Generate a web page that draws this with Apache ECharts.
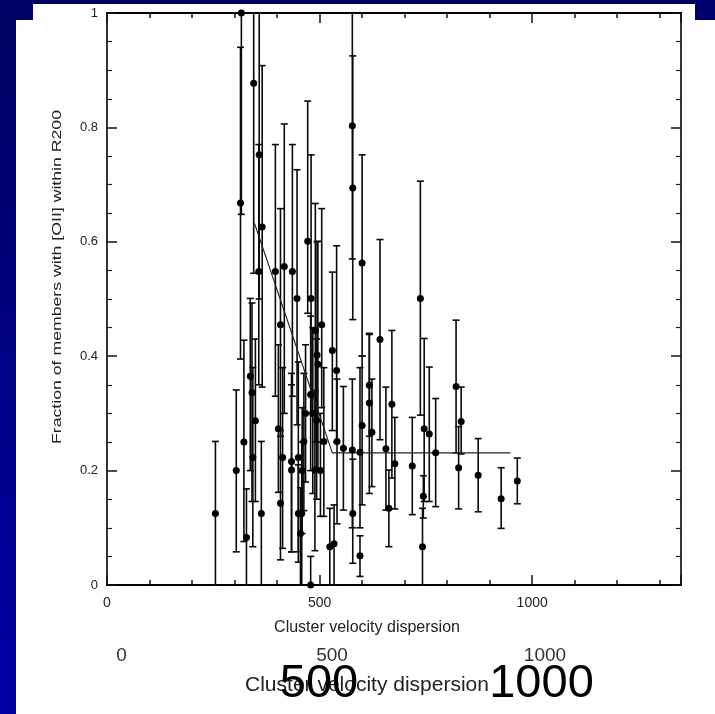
<!DOCTYPE html>
<html>
<head>
<meta charset="utf-8">
<script src="https://cdn.jsdelivr.net/npm/echarts@6/dist/echarts.min.js"></script>
<style>html,body{margin:0;padding:0;background:#fff;}#c{width:715px;height:714px;}</style>
</head>
<body>
<div id="c"></div>
<script>
// Cluster velocity dispersion (km/s)
const velocity = [255,304,314,316,322,328,337,341,343,345,349,357,358,363,365,396,403,408,408,413,417,434,434,436,447,450,450,458,455,459,463,467,472,479,479,480,484,489,490,493,494,496,502,505,510,524,530,534,540,541,556,577,578,577,578,595,595,600,600,617,617,623,642,656,663,670,677,718,737,742,744,746,758,773,821,833,827,873,927,965];
// Fraction of members with [OII] within R200
const fraction = [0.125,0.200,0.668,1.000,0.250,0.083,0.365,0.336,0.223,0.877,0.287,0.548,0.752,0.125,0.626,0.548,0.273,0.455,0.143,0.223,0.557,0.216,0.201,0.548,0.501,0.223,0.125,0.125,0.090,0.200,0.251,0.300,0.601,0.333,0.000,0.501,0.300,0.201,0.445,0.288,0.402,0.386,0.200,0.455,0.251,0.067,0.410,0.072,0.375,0.251,0.239,0.803,0.694,0.236,0.125,0.232,0.051,0.279,0.563,0.349,0.318,0.267,0.429,0.238,0.134,0.316,0.212,0.208,0.501,0.067,0.155,0.273,0.264,0.231,0.347,0.286,0.205,0.192,0.151,0.182];
// Error bar lower / upper ends
const errLow = [0.000,0.058,0.395,0.648,0.076,0.000,0.200,0.146,0.067,0.545,0.146,0.350,0.500,0.000,0.346,0.330,0.162,0.260,0.044,0.064,0.300,0.058,0.058,0.330,0.280,0.058,0.040,0.000,0.000,0.090,0.130,0.180,0.475,0.200,0.000,0.300,0.160,0.060,0.250,0.150,0.250,0.200,0.120,0.310,0.120,0.000,0.270,0.000,0.250,0.107,0.131,0.570,0.464,0.100,0.038,0.100,0.015,0.140,0.400,0.260,0.160,0.172,0.254,0.131,0.067,0.187,0.133,0.123,0.297,0.000,0.117,0.146,0.146,0.137,0.231,0.229,0.133,0.128,0.099,0.142];
const errHigh = [0.251,0.341,0.940,1.000,0.428,0.168,0.501,0.493,0.380,1.000,0.430,0.770,1.000,0.251,0.908,0.770,0.420,0.658,0.270,0.380,0.806,0.370,0.350,0.770,0.726,0.390,0.210,0.250,0.170,0.310,0.370,0.420,0.846,0.470,0.050,0.752,0.450,0.340,0.667,0.430,0.600,0.601,0.300,0.658,0.380,0.134,0.547,0.140,0.593,0.360,0.347,1.000,0.925,0.360,0.220,0.380,0.086,0.400,0.752,0.438,0.440,0.360,0.604,0.346,0.201,0.445,0.293,0.293,0.706,0.134,0.191,0.431,0.381,0.326,0.463,0.346,0.277,0.256,0.205,0.222];
// Fitted relation (broken line)
const fitVelocity = [347, 530, 949];
const fitFraction = [0.632, 0.231, 0.231];
// Tick labels
const xTickLabels = [0, 500, 1000];
const yTickLabels = [0, 0.2, 0.4, 0.6, 0.8, 1];
const ghostTickLabels = ['0', '500', '1000'];
const bigLabels = ['500', '1000'];
const xTitle = 'Cluster velocity dispersion';
const yTitle = 'Fraction of members with [OII] within R200';

const FONT = '"Liberation Sans", Arial, Helvetica, sans-serif';
const chart = echarts.init(document.getElementById('c'));

const tickStyle = {color: '#111', width: 1.5};
function xAx(pos, interval, len, labels) {
  return {
    type: 'value', position: pos, min: 0, max: 1350, interval: interval,
    axisLine: {show: true, onZero: false, lineStyle: {color: '#000', width: 2}},
    axisTick: {show: true, inside: true, length: len, lineStyle: tickStyle},
    axisLabel: labels ? {
      show: true, fontSize: 14, color: '#222', fontFamily: FONT, margin: 11,
      formatter: v => (xTickLabels.indexOf(v) >= 0 ? String(v) : '')
    } : {show: false},
    splitLine: {show: false}
  };
}
function yAx(pos, labels) {
  return {
    type: 'value', position: pos, min: 0, max: 1, interval: 0.2,
    axisLine: {show: true, onZero: false, lineStyle: {color: '#000', width: 1.6}},
    axisTick: {show: true, inside: true, length: 10, lineStyle: tickStyle},
    minorTick: {show: true, splitNumber: 4, length: 5, lineStyle: {color: '#222', width: 1.2}},
    axisLabel: labels ? {
      show: true, fontSize: 13, color: '#222', fontFamily: FONT, margin: 9,
      formatter: v => {
        const r = Math.round(v * 10) / 10;
        return yTickLabels.indexOf(r) >= 0 ? String(r) : '';
      }
    } : {show: false},
    splitLine: {show: false}
  };
}

const errData = velocity.map((v, i) => [v, errLow[i], errHigh[i]]);
const ptData = velocity.map((v, i) => [v, fraction[i]]);
const fitData = fitVelocity.map((v, i) => [v, fitFraction[i]]);

const blueGrad = {type: 'linear', x: 0, y: 0, x2: 0, y2: 1,
  colorStops: [{offset: 0, color: '#000062'}, {offset: 1, color: '#0000a6'}]};

const option = {
  backgroundColor: '#ffffff',
  animation: false,
  grid: {left: 107, right: 34, top: 13, bottom: 129, containLabel: false},
  xAxis: [xAx('bottom', 100, 5, false), xAx('bottom', 500, 10, true), xAx('top', 100, 5, false), xAx('top', 500, 10, false)],
  yAxis: [yAx('left', true), yAx('right', false)],
  series: [
    {
      type: 'custom', xAxisIndex: 0, yAxisIndex: 0, z: 3,
      data: errData,
      encode: {x: 0, y: [1, 2]},
      renderItem: function (params, api) {
        const x = api.value(0);
        const lo = api.coord([x, api.value(1)]);
        const hi = api.coord([x, api.value(2)]);
        const w = 3.5;
        const st = {stroke: '#0a0a0a', lineWidth: 1.6, fill: null};
        return {type: 'group', children: [
          {type: 'line', shape: {x1: lo[0], y1: lo[1], x2: hi[0], y2: hi[1]}, style: st},
          {type: 'line', shape: {x1: lo[0] - w, y1: lo[1], x2: lo[0] + w, y2: lo[1]}, style: st},
          {type: 'line', shape: {x1: hi[0] - w, y1: hi[1], x2: hi[0] + w, y2: hi[1]}, style: st}
        ]};
      }
    },
    {
      type: 'line', xAxisIndex: 0, yAxisIndex: 0, z: 4,
      data: fitData, symbol: 'none',
      lineStyle: {color: '#222', width: 1.1}
    },
    {
      type: 'scatter', xAxisIndex: 0, yAxisIndex: 0, z: 5,
      data: ptData, symbol: 'circle', symbolSize: 7,
      itemStyle: {color: '#000', opacity: 1}
    }
  ],
  graphic: {elements: [
    {type: 'rect', shape: {x: 0, y: 0, width: 16, height: 714}, style: {fill: blueGrad}, silent: true},
    {type: 'rect', shape: {x: 0, y: 0, width: 715, height: 4}, style: {fill: '#000062'}, silent: true},
    {type: 'rect', shape: {x: 0, y: 0, width: 33, height: 20}, style: {fill: '#000064'}, silent: true},
    {type: 'rect', shape: {x: 695, y: 0, width: 20, height: 20}, style: {fill: '#00006c'}, silent: true},
    {type: 'text', x: 57, y: 277, rotation: Math.PI / 2, scaleX: 1.36, z: 10,
      style: {text: yTitle, font: '13px ' + FONT, fill: '#222', align: 'center', verticalAlign: 'middle', textAlign: 'center', textVerticalAlign: 'middle'}},
    {type: 'text', x: 367, y: 628, z: 10,
      style: {text: xTitle, font: '16px ' + FONT, fill: '#222', align: 'center', verticalAlign: 'middle', textAlign: 'center', textVerticalAlign: 'middle'}},
    {type: 'text', x: 121.5, y: 655.5, z: 10,
      style: {text: ghostTickLabels[0], font: '19px ' + FONT, fill: '#333', align: 'center', verticalAlign: 'middle', textAlign: 'center', textVerticalAlign: 'middle'}},
    {type: 'text', x: 332, y: 655.5, z: 10,
      style: {text: ghostTickLabels[1], font: '19px ' + FONT, fill: '#333', align: 'center', verticalAlign: 'middle', textAlign: 'center', textVerticalAlign: 'middle'}},
    {type: 'text', x: 545, y: 655.5, z: 10,
      style: {text: ghostTickLabels[2], font: '19px ' + FONT, fill: '#333', align: 'center', verticalAlign: 'middle', textAlign: 'center', textVerticalAlign: 'middle'}},
    {type: 'text', x: 367, y: 685, z: 10,
      style: {text: xTitle, font: '21px ' + FONT, fill: '#222', align: 'center', verticalAlign: 'middle', textAlign: 'center', textVerticalAlign: 'middle'}},
    {type: 'text', x: 319, y: 684, z: 11,
      style: {text: bigLabels[0], font: '47px ' + FONT, fill: '#000', align: 'center', verticalAlign: 'middle', textAlign: 'center', textVerticalAlign: 'middle'}},
    {type: 'text', x: 541.5, y: 684, z: 11,
      style: {text: bigLabels[1], font: '47px ' + FONT, fill: '#000', align: 'center', verticalAlign: 'middle', textAlign: 'center', textVerticalAlign: 'middle'}}
  ]}
};
chart.setOption(option);
</script>
</body>
</html>
